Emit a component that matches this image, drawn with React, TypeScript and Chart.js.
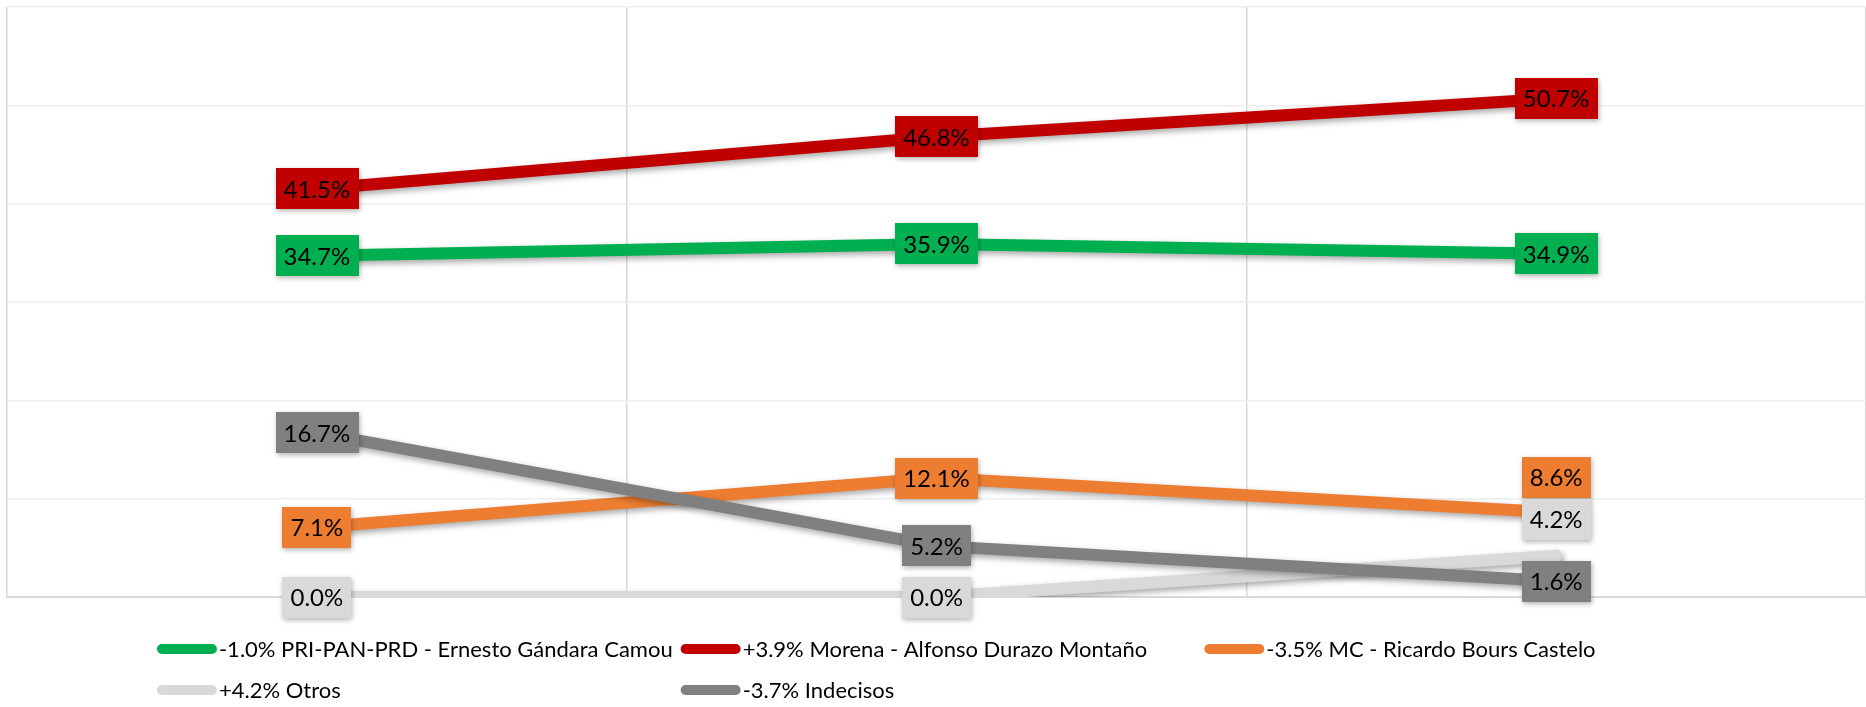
import React, { useEffect, useRef } from 'react';
import { Chart, registerables } from 'chart.js';

Chart.register(...registerables);

const categories = ['Medición 1', 'Medición 2', 'Medición 3'];
const seriesNames = [
  '-1.0% PRI-PAN-PRD - Ernesto Gándara Camou',
  '+3.9% Morena - Alfonso Durazo Montaño',
  '-3.5% MC - Ricardo Bours Castelo',
  '+4.2% Otros',
  '-3.7% Indecisos',
];
const priPanPrd = [34.7, 35.9, 34.9];
const morena = [41.5, 46.8, 50.7];
const mc = [7.1, 12.1, 8.6];
const otros = [0.0, 0.0, 4.2];
const indecisos = [16.7, 5.2, 1.6];
const seriesColors = ['#00B050', '#C00000', '#ED7D31', '#D9D9D9', '#808080'];
const yMin = 0;
const yMax = 60;
const yStep = 10;

// label layout: vertical shift (px) of each data label box relative to its point
const labelShift = [
  [0, 0, 0],
  [0, 0, 0],
  [0, 0, -35],
  [0, 0, -36],
  [0, 0, 0],
];

const FONT = "Lato, 'Open Sans', sans-serif";

const shadowPlugin = {
  id: 'lineShadow',
  beforeDatasetDraw(chart: any) {
    const ctx = chart.ctx;
    ctx.save();
    ctx.shadowColor = 'rgba(0,0,0,0.35)';
    ctx.shadowBlur = 6;
    ctx.shadowOffsetX = 2;
    ctx.shadowOffsetY = 3;
  },
  afterDatasetDraw(chart: any) {
    chart.ctx.restore();
  },
};

const labelPlugin = {
  id: 'boxLabels',
  afterDatasetsDraw(chart: any) {
    const ctx = chart.ctx;
    ctx.save();
    ctx.font = `24px ${FONT}`;
    ctx.textAlign = 'center';
    ctx.textBaseline = 'middle';
    chart.data.datasets.forEach((ds: any, i: number) => {
      const meta = chart.getDatasetMeta(i);
      meta.data.forEach((pt: any, j: number) => {
        const text = Number(ds.data[j]).toFixed(1) + '%';
        const tw = ctx.measureText(text).width;
        const w = tw + 16;
        const h = 41;
        const cx = pt.x;
        const cy = pt.y + labelShift[i][j];
        ctx.save();
        ctx.shadowColor = 'rgba(0,0,0,0.3)';
        ctx.shadowBlur = 5;
        ctx.shadowOffsetX = 1;
        ctx.shadowOffsetY = 2;
        ctx.fillStyle = ds.borderColor;
        ctx.fillRect(Math.round(cx - w / 2), Math.round(cy - h / 2), Math.round(w), h);
        ctx.restore();
        ctx.fillStyle = '#000000';
        ctx.fillText(text, cx, cy + 1);
      });
    });
    ctx.restore();
  },
};

const legendPlugin = {
  id: 'gridLegend',
  afterDraw(chart: any) {
    const ctx = chart.ctx;
    ctx.save();
    ctx.font = `22px ${FONT}`;
    const markerLen = 60;
    const markerGap = 2;
    const widths = seriesNames.map((n) => markerLen + markerGap + ctx.measureText(n).width);
    const colW = Math.max(...widths) + 8;
    const cols = 3;
    const center = (chart.chartArea.left + chart.chartArea.right) / 2 + 6;
    const startX = center - (cols * colW) / 2;
    const rowY = [649, 690];
    seriesNames.forEach((name, k) => {
      const col = k % cols;
      const row = Math.floor(k / cols);
      const x = startX + col * colW;
      const y = rowY[row];
      ctx.strokeStyle = seriesColors[k];
      ctx.lineWidth = 10;
      ctx.lineCap = 'round';
      ctx.beginPath();
      ctx.moveTo(x + 5, y);
      ctx.lineTo(x + markerLen - 5, y);
      ctx.stroke();
      ctx.fillStyle = '#000000';
      ctx.textAlign = 'left';
      ctx.textBaseline = 'middle';
      ctx.fillText(name, x + markerLen + markerGap, y + 1);
    });
    ctx.restore();
  },
};

export default function App() {
  const canvasRef = useRef<HTMLCanvasElement | null>(null);

  useEffect(() => {
    document.body.style.margin = '0';
    const canvas = canvasRef.current;
    if (!canvas) return;
    const allSeries = [priPanPrd, morena, mc, otros, indecisos];
    const chart = new Chart(canvas, {
      type: 'line',
      data: {
        labels: categories,
        datasets: allSeries.map((d, i) => ({
          label: seriesNames[i],
          data: d,
          borderColor: seriesColors[i],
          backgroundColor: seriesColors[i],
          borderWidth: 12,
          borderCapStyle: 'round',
          borderJoinStyle: 'round',
          pointRadius: 0,
          pointHoverRadius: 0,
          tension: 0,
          fill: false,
          order: 5 - i,
        })),
      },
      options: {
        animation: false,
        responsive: false,
        maintainAspectRatio: false,
        events: [],
        layout: { padding: { left: 7, top: 7, right: 0, bottom: 110 } },
        plugins: {
          legend: { display: false },
          tooltip: { enabled: false },
          title: { display: false },
        },
        scales: {
          x: {
            type: 'category',
            offset: true,
            grid: { offset: true, color: '#D9D9D9', lineWidth: 1.5, drawTicks: false },
            border: { display: true, color: '#D9D9D9', width: 2 },
            ticks: { display: false },
          },
          y: {
            min: yMin,
            max: yMax,
            ticks: { display: false, stepSize: yStep },
            grid: { color: '#EEEEEE', lineWidth: 1.5, drawTicks: false },
            border: { display: false },
          },
        },
      },
      plugins: [shadowPlugin, labelPlugin, legendPlugin],
    } as any);
    return () => chart.destroy();
  }, []);

  return (
    <div style={{ width: 1866, height: 707 }}>
      <canvas ref={canvasRef} width={1866} height={707} style={{ display: 'block' }} />
    </div>
  );
}
